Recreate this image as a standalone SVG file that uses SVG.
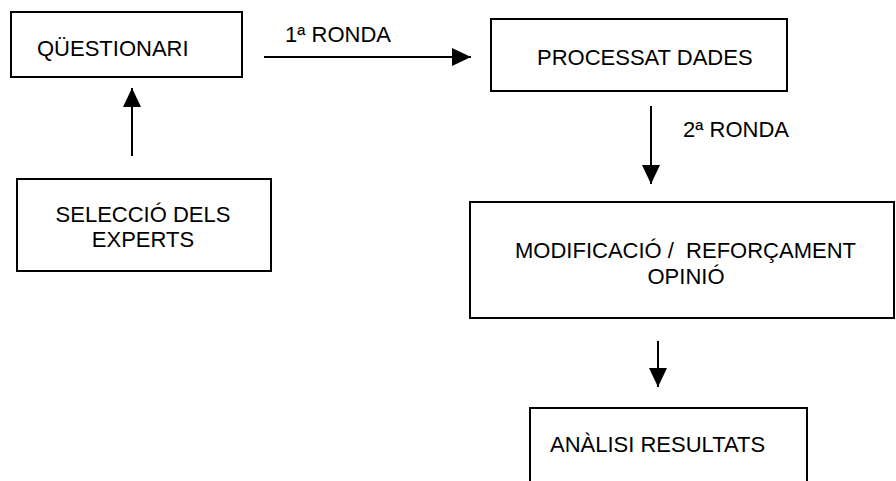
<svg xmlns="http://www.w3.org/2000/svg" width="896" height="481" viewBox="0 0 896 481">
<style>
.box{fill:#fff;stroke:#000;stroke-width:2}
.t{font-family:"Liberation Sans",Arial,sans-serif;font-size:22px;fill:#000}
.c{stroke:#000;stroke-width:2;fill:none}
</style>
<defs>
<marker id="ah" markerUnits="userSpaceOnUse" markerWidth="20" markerHeight="20" refX="19" refY="9" orient="auto" viewBox="0 0 20 18">
<path d="M0,0 L19,9 L0,18 Z" fill="#000"/>
</marker>
</defs>
<rect width="896" height="481" fill="#fff"/>
<g id="connectors">
<line class="c" x1="264" y1="57" x2="471" y2="57" marker-end="url(#ah)"/>
<line class="c" x1="132" y1="156" x2="132" y2="88" marker-end="url(#ah)"/>
<line class="c" x1="651" y1="106" x2="651" y2="184" marker-end="url(#ah)"/>
<line class="c" x1="658" y1="341" x2="658" y2="387" marker-end="url(#ah)"/>
<text class="t" x="285" y="42">1ª RONDA</text>
<text class="t" x="683" y="137">2ª RONDA</text>
</g>
<g id="questionari">
<rect class="box" x="11" y="12" width="231" height="65"/>
<text class="t" x="37" y="56">QÜESTIONARI</text>
</g>
<g id="processat">
<rect class="box" x="491" y="19" width="296" height="72"/>
<text class="t" x="537" y="65">PROCESSAT DADES</text>
</g>
<g id="seleccio">
<rect class="box" x="17" y="179" width="254" height="92"/>
<text class="t" x="143" y="222" text-anchor="middle">SELECCIÓ DELS</text>
<text class="t" x="143" y="247" text-anchor="middle">EXPERTS</text>
</g>
<g id="modificacio">
<rect class="box" x="470" y="202" width="424" height="116"/>
<text class="t" x="515" y="258" xml:space="preserve">MODIFICACIÓ /  REFORÇAMENT</text>
<text class="t" x="686" y="284" text-anchor="middle">OPINIÓ</text>
</g>
<g id="analisi">
<rect class="box" x="530" y="408" width="277" height="90"/>
<text class="t" x="550" y="452">ANÀLISI RESULTATS</text>
</g>
</svg>
